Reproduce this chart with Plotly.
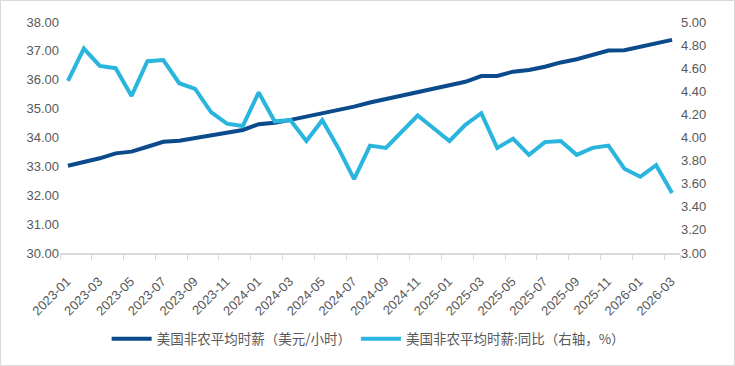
import plotly.graph_objects as go

months = [f"{y}-{m:02d}" for y in (2023, 2024, 2025, 2026) for m in range(1, 13)][:39]

wage = [33.02, 33.15, 33.28, 33.45, 33.51, 33.68, 33.85, 33.89, 33.99, 34.06,
        34.18, 34.26, 34.46, 34.51, 34.61, 34.72, 34.84, 34.95, 35.07, 35.21,
        35.33, 35.45, 35.56, 35.68, 35.82, 35.93, 36.13, 36.13, 36.28, 36.34,
        36.45, 36.60, 36.71, 36.86, 37.01, 37.02, 37.15, 37.28, 37.38]

yoy = [4.49, 4.77, 4.62, 4.60, 4.36, 4.66, 4.67, 4.47, 4.42, 4.22,
       4.12, 4.10, 4.39, 4.14, 4.15, 3.97, 4.15, 3.91, 3.64, 3.93,
       3.91, 4.05, 4.19, 4.08, 3.97, 4.11, 4.21, 3.91, 3.99, 3.85,
       3.96, 3.97, 3.85, 3.91, 3.93, 3.73, 3.66, 3.76, 3.52]

tick_labels = months[::2]

name1 = "美国非农平均时薪（美元/小时）"
name2 = "美国非农平均时薪:同比（右轴，%）"

dark = "#0b4a8b"
light = "#29b5dd"
gray_text = "#595959"
axis_gray = "#d9d9d9"

fig = go.Figure()
fig.add_trace(go.Scatter(x=months, y=wage, name=name1, mode="lines",
                         line=dict(color=dark, width=4)))
fig.add_trace(go.Scatter(x=months, y=yoy, name=name2, mode="lines", yaxis="y2",
                         line=dict(color=light, width=4)))

W, H = 735, 366
ml, mr, mt, mb = 60, 55, 22, 113
pw, ph = W - ml - mr, H - mt - mb

fig.update_layout(
    width=W, height=H,
    margin=dict(l=ml, r=mr, t=mt, b=mb, pad=0, autoexpand=False),
    paper_bgcolor="white", plot_bgcolor="white",
    font=dict(family="Liberation Sans, Arial, Noto Sans CJK SC", size=13, color=gray_text),
    showlegend=True,
    legend=dict(orientation="h", x=0.497, xanchor="center", y=(253 - 339) / ph, yanchor="middle",
                font=dict(family="Noto Sans CJK SC", size=13.5, color=gray_text),
                itemwidth=40, traceorder="normal", bgcolor="rgba(0,0,0,0)"),
    xaxis=dict(type="category", tickmode="array", tickvals=tick_labels, ticktext=tick_labels,
               tickson="boundaries", ticks="outside", ticklen=5, tickcolor=axis_gray,
               showline=True, linecolor=axis_gray, linewidth=1.5, showgrid=False,
               tickangle=-45, tickfont=dict(size=13, color=gray_text),
               ticklabelstandoff=14, ticklabelshift=-1,
               range=[-0.5, 38.5], automargin=False),
    yaxis=dict(range=[30, 38], dtick=1, tickformat=".2f", showgrid=False, zeroline=False,
               showline=False, ticks="", tickfont=dict(size=13, color=gray_text),
               automargin=False),
    yaxis2=dict(range=[3, 5], dtick=0.2, tickformat=".2f", overlaying="y", side="right",
                showgrid=False, zeroline=False, showline=False, ticks="",
                tickfont=dict(size=13, color=gray_text), automargin=False),
)

fig.add_shape(type="rect", xref="paper", yref="paper",
              x0=-(ml - 0.5) / pw, x1=1 + (mr - 0.5) / pw,
              y0=-(mb - 0.5) / ph, y1=1 + (mt - 0.5) / ph,
              line=dict(color=axis_gray, width=1), fillcolor="rgba(0,0,0,0)", layer="below")

fig.write_html("out.html", config={"displayModeBar": False},
               post_script="document.body.style.margin='0';document.body.style.padding='0';")
